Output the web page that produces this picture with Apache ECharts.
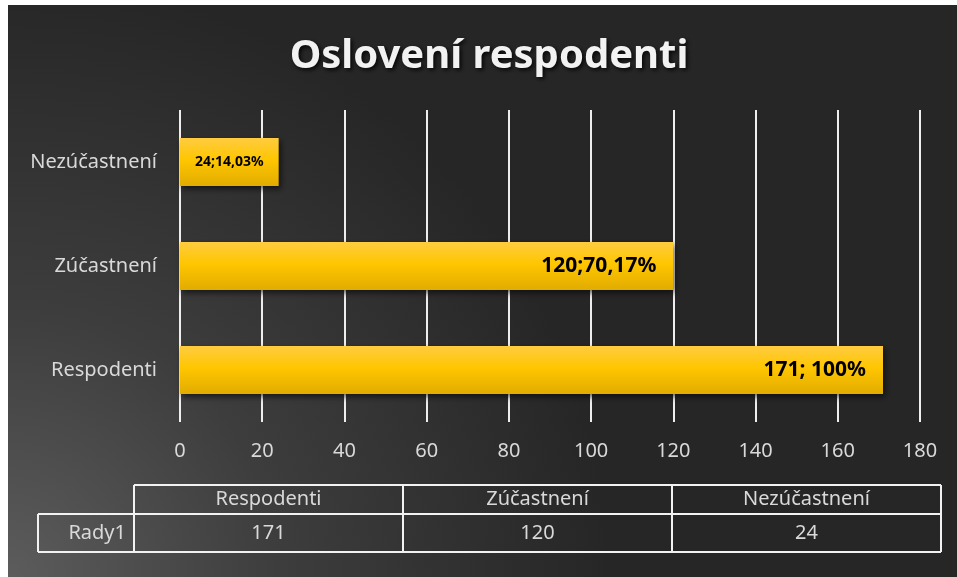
<!DOCTYPE html>
<html>
<head>
<meta charset="utf-8">
<script src="https://cdn.jsdelivr.net/npm/echarts@6/dist/echarts.min.js"></script>
<style>
  html, body { margin: 0; padding: 0; background: #ffffff; width: 957px; height: 577px; overflow: hidden; }
  #chart { position: absolute; left: 8px; top: 5px; width: 949px; height: 572px; }
</style>
</head>
<body>
<div id="chart"></div>
<script>
// ---- data ----
var titleText = 'Oslovení respodenti';
var categories = ['Respodenti', 'Zúčastnení', 'Nezúčastnení'];
var values = [171, 120, 24];
var barLabels = ['171; 100%', '120;70,17%', '24;14,03%'];
var tableColumns = ['Respodenti', 'Zúčastnení', 'Nezúčastnení'];
var tableSeriesName = 'Rady1';
var tableValues = [171, 120, 24];
var xMin = 0, xMax = 180, xInterval = 20;

// ---- styles ----
var textGray = '#d9d9d9';
var font = '"Noto Sans", "Open Sans", sans-serif';

var chart = echarts.init(document.getElementById('chart'));

var barGradient = new echarts.graphic.LinearGradient(0, 0, 0, 1, [
  { offset: 0, color: '#ffcc40' },
  { offset: 0.45, color: '#ffc600' },
  { offset: 1, color: '#e2ac00' }
]);

var barData = values.map(function (v, i) {
  var small = v < 40;
  return {
    value: v,
    label: {
      show: true,
      formatter: barLabels[i],
      position: small ? 'inside' : 'insideRight',
      distance: small ? 0 : 17,
      fontSize: small ? 14 : 21,
      fontWeight: 'bold',
      color: '#000000',
      fontFamily: font
    }
  };
});

// ---- data table built from arrays ----
var tblLeft = 126, tblRight = 933, rowHeadLeft = 30;
var rTop = 480, rMid = 509, rBot = 547;
var colW = (tblRight - tblLeft) / tableColumns.length;
var lineStyle = { stroke: '#f2f2f2', lineWidth: 2 };
var graphics = [];
function line(x1, y1, x2, y2) {
  graphics.push({ type: 'line', silent: true, shape: { x1: x1, y1: y1, x2: x2, y2: y2 }, style: lineStyle });
}
line(tblLeft, rTop, tblRight, rTop);
line(rowHeadLeft, rMid, tblRight, rMid);
line(rowHeadLeft, rBot, tblRight, rBot);
line(rowHeadLeft, rMid, rowHeadLeft, rBot);
for (var c = 0; c <= tableColumns.length; c++) {
  line(tblLeft + c * colW, rTop, tblLeft + c * colW, rBot);
}
tableColumns.forEach(function (name, i) {
  graphics.push({
    type: 'text', silent: true,
    x: tblLeft + (i + 0.5) * colW, y: (rTop + rMid) / 2,
    style: { text: name, fill: textGray, font: '20px ' + font, textAlign: 'center', textVerticalAlign: 'middle' }
  });
  graphics.push({
    type: 'text', silent: true,
    x: tblLeft + (i + 0.5) * colW, y: (rMid + rBot) / 2,
    style: { text: String(tableValues[i]), fill: textGray, font: '20px ' + font, textAlign: 'center', textVerticalAlign: 'middle' }
  });
});
graphics.push({
  type: 'text', silent: true,
  x: tblLeft - 8, y: (rMid + rBot) / 2,
  style: { text: tableSeriesName, fill: textGray, font: '20px ' + font, textAlign: 'right', textVerticalAlign: 'middle' }
});

chart.setOption({
  animation: false,
  backgroundColor: {
    type: 'radial', x: 0, y: 1, r: 1.05,
    colorStops: [
      { offset: 0, color: '#5c5c5c' },
      { offset: 0.45, color: '#3d3d3d' },
      { offset: 1, color: '#262626' }
    ]
  },
  title: {
    text: titleText,
    left: 476, top: 27, textAlign: 'center',
    textStyle: {
      color: '#f2f2f2', fontSize: 40, fontWeight: 'bold', fontFamily: font,
      textShadowColor: 'rgba(0,0,0,0.85)', textShadowBlur: 4, textShadowOffsetX: 2, textShadowOffsetY: 2
    }
  },
  grid: { left: 172, right: 37, top: 105, bottom: 155, containLabel: false },
  xAxis: {
    type: 'value', min: xMin, max: xMax, interval: xInterval,
    axisLine: { show: false },
    axisTick: { show: false },
    axisLabel: { color: textGray, fontSize: 20, fontFamily: font, margin: 19 },
    splitLine: { show: true, lineStyle: { color: '#eeeeee', width: 2 } }
  },
  yAxis: {
    type: 'category', data: categories,
    axisLine: { show: false },
    axisTick: { show: false },
    axisLabel: { color: textGray, fontSize: 20, fontFamily: font, margin: 23 }
  },
  series: [{
    type: 'bar',
    data: barData,
    barWidth: 48,
    itemStyle: {
      color: barGradient,
      shadowColor: 'rgba(0,0,0,0.6)', shadowBlur: 6, shadowOffsetX: 2, shadowOffsetY: 3
    }
  }],
  graphic: graphics
});
</script>
</body>
</html>
